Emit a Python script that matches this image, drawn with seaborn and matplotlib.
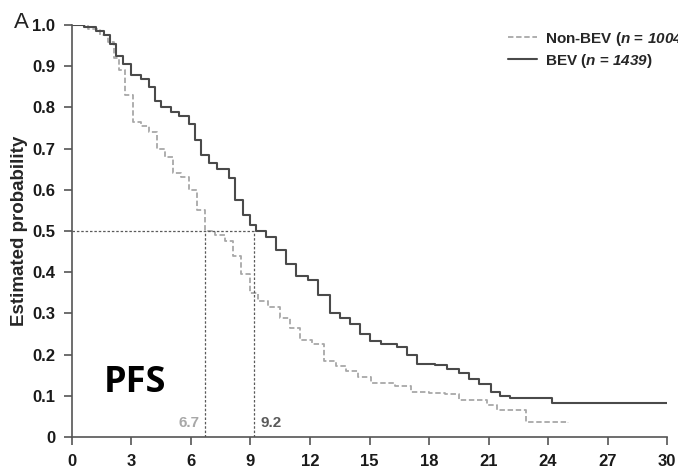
import numpy as np
import pandas as pd
import seaborn as sns
import matplotlib.pyplot as plt

# Kaplan-Meier curves (months, survival probability)
bev_t = [0, 0.6, 1.2, 1.6, 1.9, 2.2, 2.6, 3.0, 3.5, 3.9, 4.2, 4.5, 5.0, 5.4, 5.9, 6.2, 6.5,
         6.9, 7.3, 7.9, 8.2, 8.6, 9.0, 9.3, 9.8, 10.3, 10.8, 11.3, 11.9, 12.4, 13.0, 13.5,
         14.0, 14.5, 15.0, 15.6, 16.4, 16.9, 17.4, 18.3, 18.9, 19.5, 20.0, 20.5, 21.1,
         21.6, 22.1, 24.2, 30.0]
bev_s = [1.0, 0.995, 0.985, 0.975, 0.955, 0.925, 0.905, 0.88, 0.87, 0.85, 0.815, 0.80,
         0.79, 0.78, 0.76, 0.72, 0.685, 0.665, 0.65, 0.63, 0.575, 0.54, 0.515, 0.50, 0.485,
         0.455, 0.42, 0.39, 0.38, 0.345, 0.30, 0.288, 0.275, 0.25, 0.232, 0.225, 0.218,
         0.20, 0.178, 0.175, 0.165, 0.155, 0.14, 0.128, 0.11, 0.10, 0.095, 0.082, 0.082]

non_t = [0, 0.8, 1.4, 1.8, 2.1, 2.4, 2.7, 3.1, 3.5, 3.9, 4.3, 4.7, 5.1, 5.5, 5.9, 6.3, 6.7,
         7.2, 7.7, 8.1, 8.5, 9.0, 9.4, 9.9, 10.5, 11.0, 11.5, 12.1, 12.7, 13.3, 13.8, 14.4,
         15.1, 16.3, 17.1, 18.0, 18.8, 19.5, 20.7, 20.9, 21.4, 22.9, 25.0]
non_s = [1.0, 0.99, 0.975, 0.96, 0.92, 0.89, 0.83, 0.765, 0.755, 0.74, 0.70, 0.68, 0.64,
         0.632, 0.60, 0.55, 0.50, 0.49, 0.475, 0.44, 0.395, 0.35, 0.33, 0.315, 0.29, 0.265,
         0.235, 0.225, 0.185, 0.172, 0.16, 0.145, 0.13, 0.125, 0.11, 0.108, 0.104, 0.091,
         0.091, 0.078, 0.066, 0.037, 0.035]

medians = [6.7, 9.2]
x_ticks = list(range(0, 31, 3))
y_ticks = [i / 10 for i in range(0, 11)]
y_labels = ["0"] + [f"{v:.1f}" for v in y_ticks[1:]]

col_bev = "#4a4a4a"
col_non = "#a8a8a8"
col_med = "#5a5a5a"

sns.set_theme(style="ticks")
plt.rcParams["font.family"] = ["Liberation Sans", "DejaVu Sans"]
plt.rcParams["mathtext.fontset"] = "custom"
plt.rcParams["mathtext.it"] = "Liberation Sans:italic:bold"
plt.rcParams["mathtext.rm"] = "Liberation Sans:italic:bold"

fig = plt.figure(figsize=(6.78, 4.73), dpi=100)
ax = fig.add_axes([0.106, 0.076, 0.878, 0.871])

sns.lineplot(x=non_t, y=non_s, ax=ax, color=col_non, linewidth=1.3, drawstyle="steps-post",
             linestyle=(0, (3, 1.5)), label=r"Non-BEV ($n$ = $1004$)")
sns.lineplot(x=bev_t, y=bev_s, ax=ax, color=col_bev, linewidth=1.5, drawstyle="steps-post",
             label=r"BEV ($n$ = $1439$)")

# median lines
ax.plot([0, medians[1]], [0.5, 0.5], color=col_med, linestyle=(0, (2, 1.5)), linewidth=0.9)
for m in medians:
    ax.plot([m, m], [0, 0.5], color=col_med, linestyle=(0, (2, 1.5)), linewidth=0.9)
ax.text(medians[0] - 0.25, 0.035, "6.7", color=col_non, fontsize=11, fontweight="bold",
        ha="right", va="center")
ax.text(medians[1] + 0.3, 0.035, "9.2", color=col_med, fontsize=11, fontweight="bold",
        ha="left", va="center")

ax.text(3.2, 0.13, "PFS", fontsize=26, fontweight="bold", color="black",
        ha="center", va="center", family=["Open Sans", "DejaVu Sans"])

ax.set_xlim(0, 30)
ax.set_ylim(0, 1)
ax.set_xticks(x_ticks)
ax.set_yticks(y_ticks)
ax.set_yticklabels(y_labels)
for lab in ax.get_xticklabels() + ax.get_yticklabels():
    lab.set_fontweight("bold")
    lab.set_fontsize(12)
    lab.set_color("#1a1a1a")
ax.tick_params(direction="out", length=6, width=1.2, color="#555555", pad=6)
ax.set_ylabel("Estimated probability", fontsize=13.5, fontweight="bold", labelpad=3)
ax.set_xlabel("")
for s in ["left", "bottom"]:
    ax.spines[s].set_color("#555555")
    ax.spines[s].set_linewidth(1.2)
sns.despine(ax=ax)
for s in ["left", "bottom"]:
    ax.spines[s].set_clip_on(False)

leg = ax.legend(loc="upper left", bbox_to_anchor=(0.71, 1.022), frameon=False,
                fontsize=11, handlelength=1.9, handletextpad=0.5, labelspacing=0.25)
for t in leg.get_texts():
    t.set_fontweight("bold")

fig.text(0.02, 0.952, "A", fontsize=16, color="#222222", ha="left", va="center")

fig.savefig("out.png", dpi=100)
